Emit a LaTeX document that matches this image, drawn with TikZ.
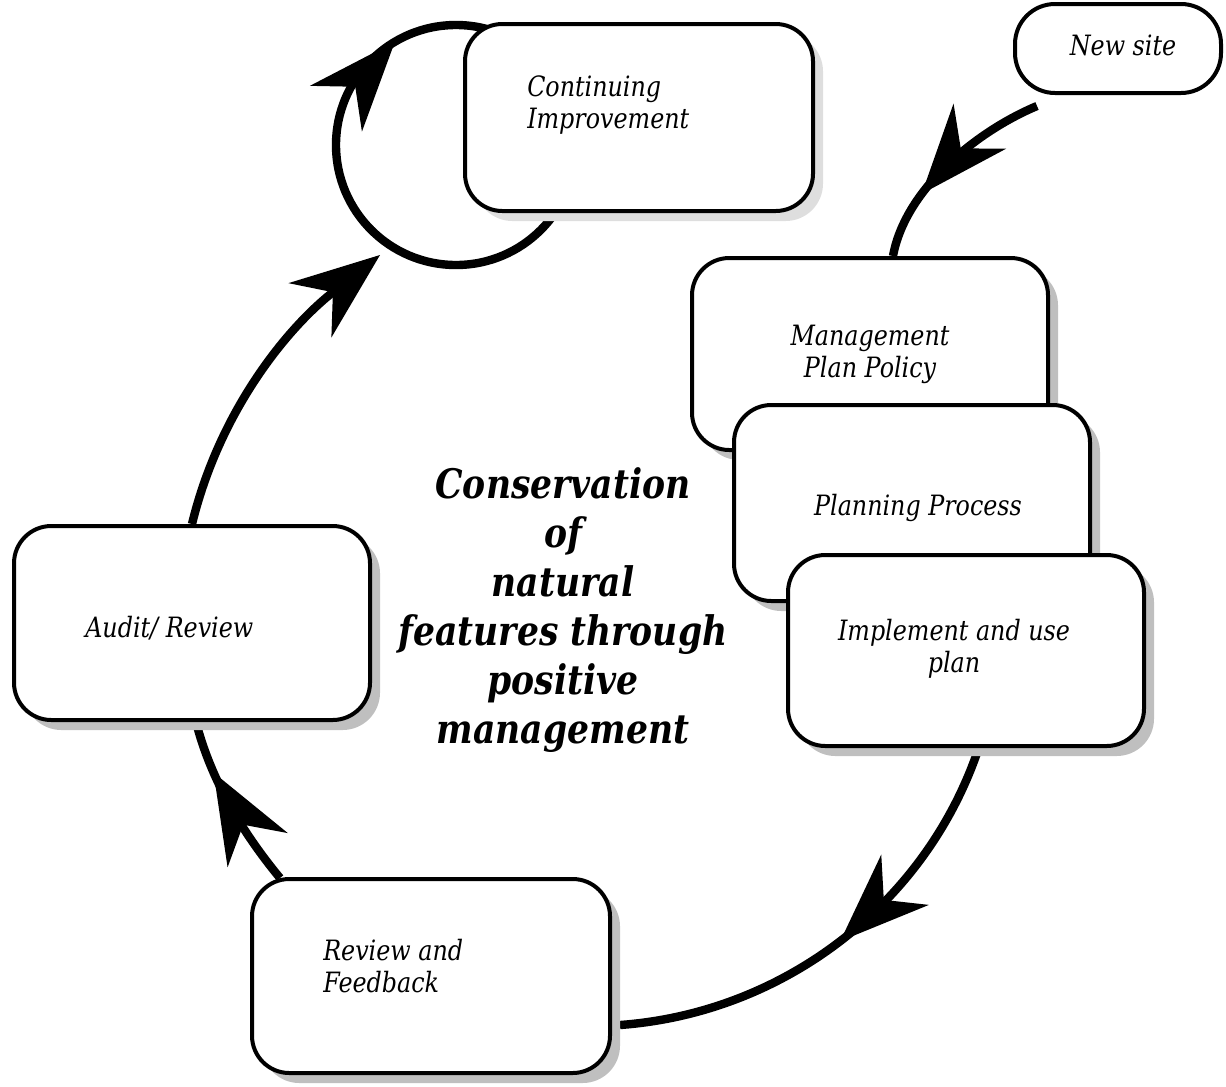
\documentclass[tikz,border=0pt]{standalone}
\usepackage{fontspec}
\setmainfont{DejaVu Serif}[FakeStretch=0.85]
\usetikzlibrary{arrows.meta,calc,decorations.markings,shadows}
\pgfdeclarelayer{bg}
\pgfsetlayers{bg,main}
\def\pxu{0.75pt}

\begin{document}
\begin{tikzpicture}[x=0.75pt,y=-0.75pt,
  bigtip/.tip={Stealth[length=67pt,width=52pt,inset=22pt,line width=0pt]},
  box/.style={draw, line width=3pt, rounded corners=28pt, fill=white,
    drop shadow={shadow xshift=7.5pt, shadow yshift=-7.5pt, fill=black!25, opacity=1}},
  lightbox/.style={draw, line width=3pt, rounded corners=28pt, fill=white,
    drop shadow={shadow xshift=7.5pt, shadow yshift=-7.5pt, fill=black!13, opacity=1}},
  plainbox/.style={draw, line width=3pt, rounded corners=30pt, fill=white},
  lbl/.style={inner sep=0pt, font=\itshape\fontsize{21}{24}\selectfont},
  theme/.style={inner sep=0pt, font=\bfseries\itshape\fontsize{30.5}{36.75}\selectfont},
  conn/.style={draw, line width=6.3pt},
  midarrow/.style 2 args={postaction={decorate, decoration={markings,
      mark=at position #1 with {\arrow[rotate=#2]{bigtip}}}}}
]
\useasboundingbox (0,0) rectangle (1226,1086);

% stages of the cycle
\node[lightbox, minimum width=348*\pxu, minimum height=187*\pxu] (cont) at (639,117.5) {};
\node[plainbox, minimum width=206*\pxu, minimum height=89*\pxu] (newsite) at (1118,48.5) {};
\node[box, minimum width=356*\pxu, minimum height=192*\pxu] (mgmt) at (870,354) {};
\node[box, minimum width=356*\pxu, minimum height=196*\pxu] (plan) at (912,503) {};
\node[box, minimum width=356*\pxu, minimum height=191*\pxu] (impl) at (966,650.5) {};
\node[box, minimum width=356*\pxu, minimum height=194*\pxu] (audit) at (192,623) {};
\node[box, minimum width=358*\pxu, minimum height=194*\pxu] (review) at (431,976) {};

% stage texts (anchored on the baseline of their last line)
\node[lbl, anchor=base west, align=left] (contT) at (527,128) {Continuing\\Improvement};
\node[lbl, anchor=base] (newT) at (1123,55) {New site};
\node[lbl, anchor=base, align=center] (mgmtT) at (870,377) {Management\\Plan Policy};
\node[lbl, anchor=base] (planT) at (918,515) {Planning Process};
\node[lbl, anchor=base, align=center] (implT) at (954,672) {Implement and use\\plan};
\node[lbl, anchor=base west] (auditT) at (85,637) {Audit/ Review};
\node[lbl, anchor=base west, align=left] (reviewT) at (323,992) {Review and\\Feedback};

% central theme
\node[theme, anchor=base, align=center] (themeT) at (563,743)
  {Conservation\\of\\natural\\features through\\positive\\management};

% improvement loop
\coordinate (loop) at (456,145);
\coordinate (looptip) at (380,255);

\begin{pgfonlayer}{bg}
\draw[conn, midarrow={0.68}{-4}] ($(newsite.south)+(-81,11)$)
  .. controls +(-62,26) and +(12,-66) .. ($(mgmt.north)+(23,0)$);
\draw[conn, midarrow={0.50}{6}] ($(impl.south)+(12,2)$)
  .. controls +(-53,155) and +(163,-12) .. ($(review.east)+(8,49)$);
\draw[conn, midarrow={0.70}{6}] ($(review.north)+(-151,1)$)
  .. controls +(-38,-46) and +(15,58) .. ($(audit.south)+(4,0)$);
\draw[conn, -{bigtip}] (audit.north)
  .. controls +(27,-111) and +(-95,75) .. (looptip);
\draw[conn, midarrow={0.165}{18}] ($(loop)+(-120,0)$)
  arc[start angle=180, end angle=540, radius=120];
\end{pgfonlayer}
\end{tikzpicture}
\end{document}
